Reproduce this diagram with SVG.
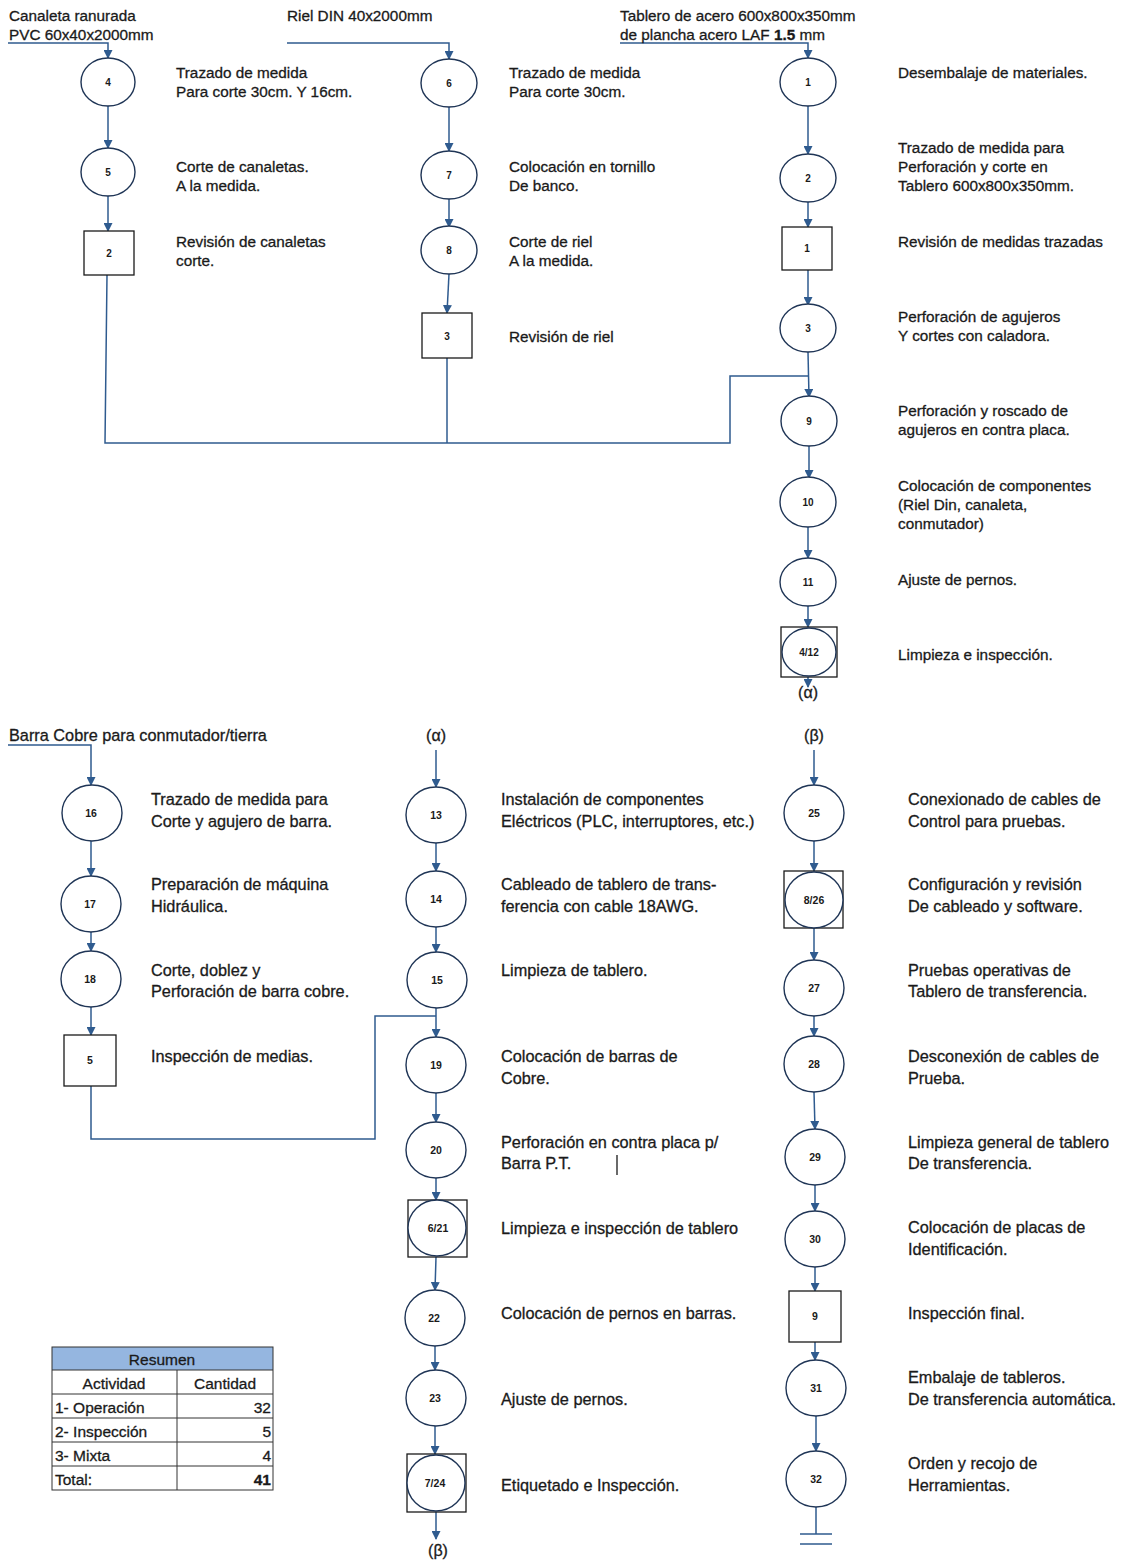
<svg xmlns="http://www.w3.org/2000/svg" width="1126" height="1560" viewBox="0 0 1126 1560">
<style>
text{font-family:"Liberation Sans",Arial,sans-serif;fill:#1a1a1a}
.t,.b,.g,.tb{stroke:#1a1a1a;stroke-width:0.3}
.t{font-size:15.3px}
.b{font-size:16.3px}
.n{font-size:10px;font-weight:bold;text-anchor:middle}
.nb{font-size:10.5px;font-weight:bold;text-anchor:middle}
.g{font-size:16px;text-anchor:middle}
.c{fill:#fff;stroke:#1f3556;stroke-width:1.4}
.s{fill:#fff;stroke:#1a1a1a;stroke-width:1.3}
.sq{fill:none;stroke:#1a1a1a;stroke-width:1.3}
.l{fill:none;stroke:#2f5b8f;stroke-width:1.5}
.a{fill:none;stroke:#2f5b8f;stroke-width:1.5;marker-end:url(#ar)}
.tb{font-size:15.5px}
.tl{fill:none;stroke:#333;stroke-width:1}
</style>
<defs>
<marker id="ar" markerWidth="9" markerHeight="9" refX="8" refY="4.5" orient="auto" markerUnits="userSpaceOnUse">
<path d="M0,0 L9,4.5 L0,9 z" fill="#2f5b8f"/>
</marker>
</defs>
<rect width="1126" height="1560" fill="#fff"/>

<g id="connectors">
<path class="a" d="M8,43 H108 V58"/>
<path class="a" d="M108,106 V148"/>
<path class="a" d="M108,196 V231"/>
<path class="l" d="M107,275 L105,443 H730 V376 H808"/>
<path class="a" d="M287,43 H449 V59"/>
<path class="a" d="M449,106 V151"/>
<path class="a" d="M449,199 V227"/>
<path class="a" d="M449,274 L447,313"/>
<path class="l" d="M447,358 V443"/>
<path class="a" d="M620,43 H808 V58"/>
<path class="a" d="M808,106 V154"/>
<path class="a" d="M808,202 V227"/>
<path class="a" d="M808,270 V305"/>
<path class="a" d="M808,352 L809,397"/>
<path class="a" d="M809,446 V478"/>
<path class="a" d="M808,527 V558"/>
<path class="a" d="M808,606 V627"/>
<path class="a" d="M808,677 V687"/>
<path class="a" d="M8,745 H91 V785"/>
<path class="a" d="M91,841 V876"/>
<path class="a" d="M91,932 V951"/>
<path class="a" d="M91,1007 V1035"/>
<path class="l" d="M91,1086 V1139 H375 V1016 H436"/>
<path class="a" d="M436,750 V787"/>
<path class="a" d="M436,843 V871"/>
<path class="a" d="M436,927 V952"/>
<path class="a" d="M436,1008 V1037"/>
<path class="a" d="M436,1093 V1122"/>
<path class="a" d="M436,1178 V1200"/>
<path class="a" d="M436,1257 L435,1290"/>
<path class="a" d="M435,1346 V1370"/>
<path class="a" d="M435,1426 V1454"/>
<path class="a" d="M436,1512 V1539"/>
<path class="a" d="M814,750 V785"/>
<path class="a" d="M814,841 V871"/>
<path class="a" d="M814,928 V960"/>
<path class="a" d="M814,1016 V1036"/>
<path class="a" d="M814,1092 L815,1129"/>
<path class="a" d="M815,1185 V1211"/>
<path class="a" d="M815,1267 V1291"/>
<path class="a" d="M815,1342 V1360"/>
<path class="a" d="M816,1416 V1451"/>
<path class="l" d="M816,1507 V1534 M800,1534 H832 M800,1544 H832"/>
<path d="M617,1155 V1175" stroke="#1a1a1a" stroke-width="1.3"/>
</g>

<g id="sources">
<text class="t" x="9" y="21">Canaleta ranurada</text>
<text class="t" x="9" y="40">PVC 60x40x2000mm</text>
<text class="t" x="287" y="21">Riel DIN 40x2000mm</text>
<text class="t" x="620" y="21">Tablero de acero 600x800x350mm</text>
<text class="t" x="620" y="40">de plancha acero LAF <tspan font-weight="bold">1.5</tspan> mm</text>
<text class="b" x="9" y="741">Barra Cobre para conmutador/tierra</text>
<text class="g" x="808" y="698">(α)</text>
<text class="g" x="436" y="741">(α)</text>
<text class="g" x="814" y="741">(β)</text>
<text class="g" x="438" y="1556">(β)</text>
</g>

<g id="op4"><ellipse class="c" cx="108" cy="82" rx="27" ry="24"/><text class="n" x="108" y="86">4</text>
<text class="t" x="176" y="78">Trazado de medida</text><text class="t" x="176" y="97">Para corte 30cm. Y 16cm.</text></g>
<g id="op5"><ellipse class="c" cx="108" cy="172" rx="27" ry="24"/><text class="n" x="108" y="176">5</text>
<text class="t" x="176" y="172">Corte de canaletas.</text><text class="t" x="176" y="191">A la medida.</text></g>
<g id="in2"><rect class="s" x="84" y="231" width="50" height="44"/><text class="n" x="109" y="257">2</text>
<text class="t" x="176" y="247">Revisión de canaletas</text><text class="t" x="176" y="266">corte.</text></g>

<g id="op6"><ellipse class="c" cx="449" cy="83" rx="28" ry="24"/><text class="n" x="449" y="87">6</text>
<text class="t" x="509" y="78">Trazado de medida</text><text class="t" x="509" y="97">Para corte 30cm.</text></g>
<g id="op7"><ellipse class="c" cx="449" cy="175" rx="28" ry="24"/><text class="n" x="449" y="179">7</text>
<text class="t" x="509" y="172">Colocación en tornillo</text><text class="t" x="509" y="191">De banco.</text></g>
<g id="op8"><ellipse class="c" cx="449" cy="250" rx="28" ry="24"/><text class="n" x="449" y="254">8</text>
<text class="t" x="509" y="247">Corte de riel</text><text class="t" x="509" y="266">A la medida.</text></g>
<g id="in3"><rect class="s" x="422" y="313" width="50" height="45"/><text class="n" x="447" y="340">3</text>
<text class="t" x="509" y="342">Revisión de riel</text></g>

<g id="op1"><ellipse class="c" cx="808" cy="82" rx="28" ry="24"/><text class="n" x="808" y="86">1</text>
<text class="t" x="898" y="78">Desembalaje de materiales.</text></g>
<g id="op2"><ellipse class="c" cx="808" cy="178" rx="28" ry="24"/><text class="n" x="808" y="182">2</text>
<text class="t" x="898" y="153">Trazado de medida para</text><text class="t" x="898" y="172">Perforación y corte en</text><text class="t" x="898" y="191">Tablero 600x800x350mm.</text></g>
<g id="in1"><rect class="s" x="782" y="227" width="50" height="43"/><text class="n" x="807" y="252">1</text>
<text class="t" x="898" y="247">Revisión de medidas trazadas</text></g>
<g id="op3"><ellipse class="c" cx="808" cy="328" rx="28" ry="24"/><text class="n" x="808" y="332">3</text>
<text class="t" x="898" y="322">Perforación de agujeros</text><text class="t" x="898" y="341">Y cortes con caladora.</text></g>
<g id="op9"><ellipse class="c" cx="809" cy="421" rx="28" ry="25"/><text class="n" x="809" y="425">9</text>
<text class="t" x="898" y="416">Perforación y roscado de</text><text class="t" x="898" y="435">agujeros en contra placa.</text></g>
<g id="op10"><ellipse class="c" cx="808" cy="502" rx="28" ry="25"/><text class="n" x="808" y="506">10</text>
<text class="t" x="898" y="491">Colocación de componentes</text><text class="t" x="898" y="510">(Riel Din, canaleta,</text><text class="t" x="898" y="529">conmutador)</text></g>
<g id="op11"><ellipse class="c" cx="808" cy="582" rx="28" ry="24"/><text class="n" x="808" y="586">11</text>
<text class="t" x="898" y="585">Ajuste de pernos.</text></g>
<g id="mx4"><rect class="sq" x="781" y="627" width="56" height="50"/><ellipse class="c" cx="809" cy="652" rx="27" ry="24"/><text class="n" x="809" y="656">4/12</text>
<text class="t" x="898" y="660">Limpieza e inspección.</text></g>

<g id="op16"><ellipse class="c" cx="92" cy="813" rx="30" ry="28"/><text class="nb" x="91" y="817">16</text>
<text class="b" x="151" y="805">Trazado de medida para</text><text class="b" x="151" y="827">Corte y agujero de barra.</text></g>
<g id="op17"><ellipse class="c" cx="91" cy="904" rx="30" ry="28"/><text class="nb" x="90" y="908">17</text>
<text class="b" x="151" y="890">Preparación de máquina</text><text class="b" x="151" y="912">Hidráulica.</text></g>
<g id="op18"><ellipse class="c" cx="91" cy="979" rx="30" ry="28"/><text class="nb" x="90" y="983">18</text>
<text class="b" x="151" y="976">Corte, doblez y</text><text class="b" x="151" y="997">Perforación de barra cobre.</text></g>
<g id="in5"><rect class="s" x="64" y="1035" width="52" height="51"/><text class="nb" x="90" y="1064">5</text>
<text class="b" x="151" y="1062">Inspección de medias.</text></g>

<g id="op13"><ellipse class="c" cx="436" cy="815" rx="30" ry="28"/><text class="nb" x="436" y="819">13</text>
<text class="b" x="501" y="805">Instalación de componentes</text><text class="b" x="501" y="827">Eléctricos (PLC, interruptores, etc.)</text></g>
<g id="op14"><ellipse class="c" cx="436" cy="899" rx="30" ry="28"/><text class="nb" x="436" y="903">14</text>
<text class="b" x="501" y="890">Cableado de tablero de trans-</text><text class="b" x="501" y="912">ferencia con cable 18AWG.</text></g>
<g id="op15"><ellipse class="c" cx="437" cy="980" rx="30" ry="28"/><text class="nb" x="437" y="984">15</text>
<text class="b" x="501" y="976">Limpieza de tablero.</text></g>
<g id="op19"><ellipse class="c" cx="436" cy="1065" rx="30" ry="28"/><text class="nb" x="436" y="1069">19</text>
<text class="b" x="501" y="1062">Colocación de barras de</text><text class="b" x="501" y="1084">Cobre.</text></g>
<g id="op20"><ellipse class="c" cx="436" cy="1150" rx="30" ry="28"/><text class="nb" x="436" y="1154">20</text>
<text class="b" x="501" y="1148">Perforación en contra placa p/</text><text class="b" x="501" y="1169">Barra P.T.</text></g>
<g id="mx6"><rect class="sq" x="408" y="1200" width="59" height="57"/><ellipse class="c" cx="437" cy="1228" rx="29" ry="28"/><text class="nb" x="438" y="1232">6/21</text>
<text class="b" x="501" y="1234">Limpieza e inspección de tablero</text></g>
<g id="op22"><ellipse class="c" cx="435" cy="1318" rx="30" ry="28"/><text class="nb" x="434" y="1322">22</text>
<text class="b" x="501" y="1319">Colocación de pernos en barras.</text></g>
<g id="op23"><ellipse class="c" cx="436" cy="1398" rx="30" ry="28"/><text class="nb" x="435" y="1402">23</text>
<text class="b" x="501" y="1405">Ajuste de pernos.</text></g>
<g id="mx7"><rect class="sq" x="407" y="1454" width="59" height="58"/><ellipse class="c" cx="436" cy="1483" rx="29" ry="28"/><text class="nb" x="435" y="1487">7/24</text>
<text class="b" x="501" y="1491">Etiquetado e Inspección.</text></g>

<g id="op25"><ellipse class="c" cx="814" cy="813" rx="30" ry="28"/><text class="nb" x="814" y="817">25</text>
<text class="b" x="908" y="805">Conexionado de cables de</text><text class="b" x="908" y="827">Control para pruebas.</text></g>
<g id="mx8"><rect class="sq" x="784" y="871" width="59" height="57"/><ellipse class="c" cx="814" cy="900" rx="29" ry="28"/><text class="nb" x="814" y="904">8/26</text>
<text class="b" x="908" y="890">Configuración y revisión</text><text class="b" x="908" y="912">De cableado y software.</text></g>
<g id="op27"><ellipse class="c" cx="814" cy="988" rx="30" ry="28"/><text class="nb" x="814" y="992">27</text>
<text class="b" x="908" y="976">Pruebas operativas de</text><text class="b" x="908" y="997">Tablero de transferencia.</text></g>
<g id="op28"><ellipse class="c" cx="814" cy="1064" rx="30" ry="28"/><text class="nb" x="814" y="1068">28</text>
<text class="b" x="908" y="1062">Desconexión de cables de</text><text class="b" x="908" y="1084">Prueba.</text></g>
<g id="op29"><ellipse class="c" cx="815" cy="1157" rx="30" ry="28"/><text class="nb" x="815" y="1161">29</text>
<text class="b" x="908" y="1148">Limpieza general de tablero</text><text class="b" x="908" y="1169">De transferencia.</text></g>
<g id="op30"><ellipse class="c" cx="815" cy="1239" rx="30" ry="28"/><text class="nb" x="815" y="1243">30</text>
<text class="b" x="908" y="1233">Colocación de placas de</text><text class="b" x="908" y="1255">Identificación.</text></g>
<g id="in9"><rect class="s" x="789" y="1291" width="52" height="51"/><text class="nb" x="815" y="1320">9</text>
<text class="b" x="908" y="1319">Inspección final.</text></g>
<g id="op31"><ellipse class="c" cx="816" cy="1388" rx="30" ry="28"/><text class="nb" x="816" y="1392">31</text>
<text class="b" x="908" y="1383">Embalaje de tableros.</text><text class="b" x="908" y="1405">De transferencia automática.</text></g>
<g id="op32"><ellipse class="c" cx="816" cy="1479" rx="30" ry="28"/><text class="nb" x="816" y="1483">32</text>
<text class="b" x="908" y="1469">Orden y recojo de</text><text class="b" x="908" y="1491">Herramientas.</text></g>

<g id="resumen">
<rect x="52" y="1347" width="221" height="23" fill="#95b6e0"/>
<rect class="tl" x="52" y="1347" width="221" height="143"/>
<path class="tl" d="M52,1370 H273 M52,1394 H273 M52,1418 H273 M52,1442 H273 M52,1466 H273 M177,1370 V1490"/>
<text class="tb" x="162" y="1365" text-anchor="middle">Resumen</text>
<text class="tb" x="114" y="1389" text-anchor="middle">Actividad</text>
<text class="tb" x="225" y="1389" text-anchor="middle">Cantidad</text>
<text class="tb" x="55" y="1413">1- Operación</text>
<text class="tb" x="271" y="1413" text-anchor="end">32</text>
<text class="tb" x="55" y="1437">2- Inspección</text>
<text class="tb" x="271" y="1437" text-anchor="end">5</text>
<text class="tb" x="55" y="1461">3- Mixta</text>
<text class="tb" x="271" y="1461" text-anchor="end">4</text>
<text class="tb" x="55" y="1485">Total:</text>
<text class="tb" x="271" y="1485" text-anchor="end" font-weight="bold">41</text>
</g>
</svg>
